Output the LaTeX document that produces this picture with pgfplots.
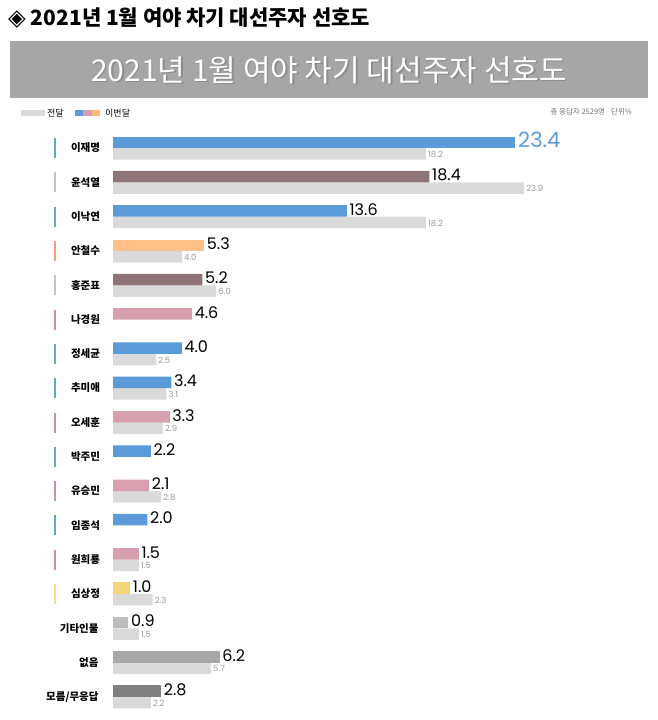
\documentclass[border=0pt]{standalone}
\usepackage{fontspec}
\usepackage{pgfplots}
\pgfplotsset{compat=1.18}
\setmainfont{Noto Sans CJK KR}
\newfontfamily\numfont{Poppins}
\newfontfamily\symfont{DejaVu Sans}
\definecolor{cblue}{HTML}{5B9BD9}
\definecolor{cbrown}{HTML}{8E7476}
\definecolor{corange}{HTML}{FFC088}
\definecolor{cpink}{HTML}{D8A0AE}
\definecolor{cyellow}{HTML}{F5D67B}
\definecolor{cgrayA}{HTML}{BDBDBD}
\definecolor{cgrayB}{HTML}{A8A8A8}
\definecolor{cgrayC}{HTML}{808080}
\definecolor{cprev}{HTML}{DADADA}
\definecolor{tblue}{HTML}{5FA8C8}
\definecolor{tbeige}{HTML}{CBBFBA}
\definecolor{torange}{HTML}{F2A283}
\definecolor{tpink}{HTML}{D18DA0}
\definecolor{tyellow}{HTML}{F5DD90}
\definecolor{banner}{HTML}{A6A6A6}
\newcommand{\lab}[2]{\textcolor{#1}{\rule[-6.3pt]{2pt}{20pt}}\hspace{5pt}\makebox[50pt][c]{#2}}
\newcommand{\labn}[1]{\makebox[57pt][r]{#1\hspace{12pt}}}
\begin{document}
\begin{tikzpicture}[x=1pt,y=1pt]
\path[use as bounding box] (0,0) rectangle (658,-720);
% top title
\node[anchor=west, inner sep=0pt, font=\bfseries\fontsize{21}{21}\selectfont] at (8,-18) {{\symfont\fontsize{23}{23}\selectfont ◈}\hspace{5pt}2021년 1월 여야 차기 대선주자 선호도};
% banner
\fill[banner] (10,-41) rectangle (648,-98);
\node[text=black!45, font=\fontsize{30}{30}\selectfont, inner sep=0pt] at (330.5,-71.5) {2021년 1월 여야 차기 대선주자 선호도};
\node[text=white, font=\fontsize{30}{30}\selectfont, inner sep=0pt] at (329,-70) {2021년 1월 여야 차기 대선주자 선호도};
% legend
\fill[cprev] (21,-110) rectangle (45,-116);
\node[anchor=west, inner sep=0pt, font=\fontsize{9}{9}\selectfont] at (47,-113) {전달};
\fill[cblue] (75,-110) rectangle (83,-116);
\fill[cpink] (83,-110) rectangle (92,-116);
\fill[corange!90!orange] (92,-110) rectangle (100,-116);
\node[anchor=west, inner sep=0pt, font=\fontsize{9}{9}\selectfont] at (105,-113) {이번달};
\node[anchor=east, inner sep=0pt, text=black!55, font=\fontsize{7.5}{7.5}\selectfont] at (632,-112) {총 응답자 2529명\hspace{6pt}단위\%};
\begin{axis}[
  at={(113pt,-714pt)}, anchor=south west,
  scale only axis, width=516pt, height=583pt,
  xmin=0, xmax=30, ymin=-0.5, ymax=16.5,
  xbar, bar width=11.5pt,
  axis line style={draw=none}, tick style={draw=none},
  xtick=\empty, ytick={0,...,16},
  yticklabels={\labn{모름/무응답},\labn{없음},\labn{기타인물},\lab{tyellow}{심상정},\lab{tpink}{원희룡},\lab{tblue}{임종석},\lab{tpink}{유승민},\lab{tblue}{박주민},\lab{tpink}{오세훈},\lab{tblue}{추미애},\lab{tblue}{정세균},\lab{tpink}{나경원},\lab{tbeige}{홍준표},\lab{torange}{안철수},\lab{tblue}{이낙연},\lab{tbeige}{윤석열},\lab{tblue}{이재명}},
  yticklabel style={anchor=east, inner sep=0pt, xshift=2pt, font=\bfseries\fontsize{10.5}{10.5}\selectfont},
  clip=false,
  nodes near coords,
  /pgf/number format/.cd, fixed, fixed zerofill, precision=1, assume math mode=true,
  /pgfplots/.cd,
  cur/.style={draw=none, bar shift=5.75pt, every node near coord/.append style={font=\numfont\fontsize{16}{16}\selectfont, text=black, anchor=west, inner sep=2.5pt, yshift=1.5pt}},
  prev/.style={draw=none, fill=cprev, bar shift=-5.75pt, every node near coord/.append style={font=\numfont\fontsize{8.5}{8.5}\selectfont, text=black!40, anchor=west, inner sep=2pt, yshift=-0.5pt}},
]
% previous month
\addplot[prev] coordinates {(18.2,16) (23.9,15) (18.2,14) (4.0,13) (6.0,12) (2.5,10) (3.1,9) (2.9,8) (2.8,6) (1.5,4) (2.3,3) (1.5,2) (5.7,1) (2.2,0)};
% current month
\addplot[cur, fill=cblue, every node near coord/.append style={font=\numfont\fontsize{21}{21}\selectfont, text=cblue, yshift=1pt}] coordinates {(23.4,16)};
\addplot[cur, fill=cblue] coordinates {(13.6,14) (4.0,10) (3.4,9) (2.2,7) (2.0,5)};
\addplot[cur, fill=cbrown] coordinates {(18.4,15) (5.2,12)};
\addplot[cur, fill=corange] coordinates {(5.3,13)};
\addplot[cur, fill=cpink] coordinates {(4.6,11) (3.3,8) (2.1,6) (1.5,4)};
\addplot[cur, fill=cyellow] coordinates {(1.0,3)};
\addplot[cur, fill=cgrayA] coordinates {(0.9,2)};
\addplot[cur, fill=cgrayB] coordinates {(6.2,1)};
\addplot[cur, fill=cgrayC] coordinates {(2.8,0)};
\end{axis}
\end{tikzpicture}
\end{document}
